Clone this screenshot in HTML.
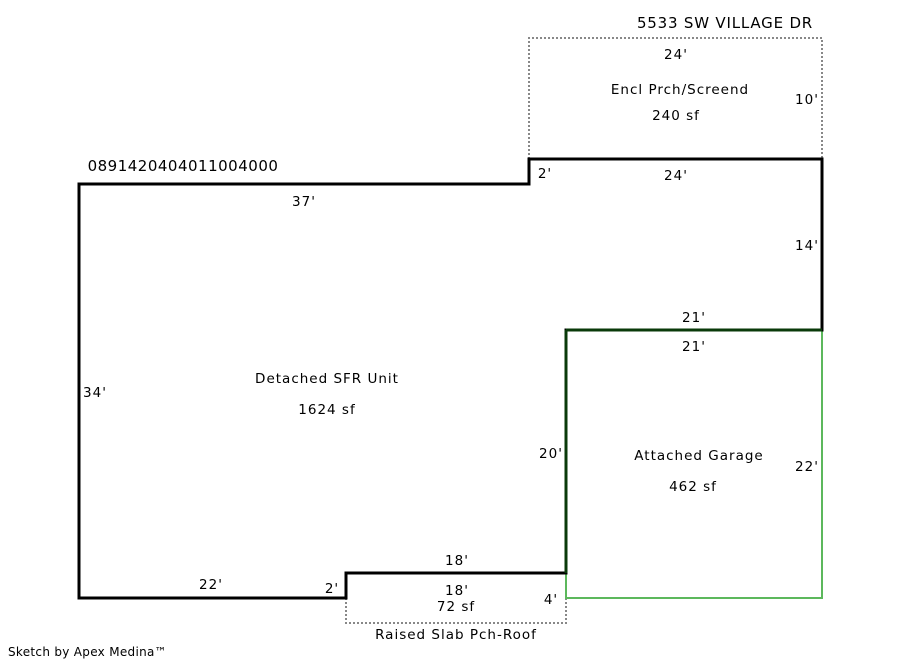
<!DOCTYPE html>
<html><head><meta charset="utf-8"><style>
html,body{margin:0;padding:0;background:#fff;}
svg{display:block;}
text{font-family:"DejaVu Sans","Liberation Sans",sans-serif;font-size:13.5px;letter-spacing:1px;fill:#000;}
</style></head><body>
<svg width="900" height="661" viewBox="0 0 900 661" xmlns="http://www.w3.org/2000/svg">
<rect width="900" height="661" fill="#fff"/>
<polyline points="529,159 529,38 822,38 822,159" fill="none" stroke="#888" stroke-width="2" stroke-dasharray="2,2"/>
<polyline points="346,598 346,623 566,623 566,598" fill="none" stroke="#888" stroke-width="2" stroke-dasharray="2,2"/>
<polyline points="822,330 822,598 566,598 566,573" fill="none" stroke="#5cb85c" stroke-width="2"/>
<polygon points="79,184 529,184 529,159 822,159 822,330 566,330 566,573 346,573 346,598 79,598" fill="none" stroke="#000" stroke-width="3"/>
<line x1="566" y1="330" x2="566" y2="573" stroke="#0a3a0a" stroke-width="3"/>
<line x1="566" y1="330" x2="822" y2="330" stroke="#0a3a0a" stroke-width="3"/>

<text x="725" y="28" text-anchor="middle" style="font-size:15px;letter-spacing:0.8px">5533 SW VILLAGE DR</text>
<text x="676" y="59" text-anchor="middle">24'</text>
<text x="680" y="94" text-anchor="middle">Encl Prch/Screend</text>
<text x="676" y="120" text-anchor="middle">240 sf</text>
<text x="807" y="104" text-anchor="middle">10'</text>
<text x="545" y="178" text-anchor="middle">2'</text>
<text x="676" y="180" text-anchor="middle">24'</text>
<text x="183" y="171" text-anchor="middle" style="font-size:15px;letter-spacing:0.5px">0891420404011004000</text>
<text x="304" y="206" text-anchor="middle">37'</text>
<text x="807" y="250" text-anchor="middle">14'</text>
<text x="694" y="322" text-anchor="middle">21'</text>
<text x="694" y="351" text-anchor="middle">21'</text>
<text x="95" y="397" text-anchor="middle">34'</text>
<text x="327" y="383" text-anchor="middle">Detached SFR Unit</text>
<text x="327" y="414" text-anchor="middle">1624 sf</text>
<text x="551" y="458" text-anchor="middle">20'</text>
<text x="699" y="460" text-anchor="middle">Attached Garage</text>
<text x="693" y="491" text-anchor="middle">462 sf</text>
<text x="807" y="471" text-anchor="middle">22'</text>
<text x="457" y="565" text-anchor="middle">18'</text>
<text x="211" y="589" text-anchor="middle">22'</text>
<text x="332" y="593" text-anchor="middle">2'</text>
<text x="457" y="595" text-anchor="middle">18'</text>
<text x="456" y="611" text-anchor="middle">72 sf</text>
<text x="551" y="604" text-anchor="middle">4'</text>
<text x="456" y="639" text-anchor="middle">Raised Slab Pch-Roof</text>
<text x="8" y="656" style="font-size:12px;letter-spacing:0.3px">Sketch by Apex Medina™</text>
</svg>
</body></html>
